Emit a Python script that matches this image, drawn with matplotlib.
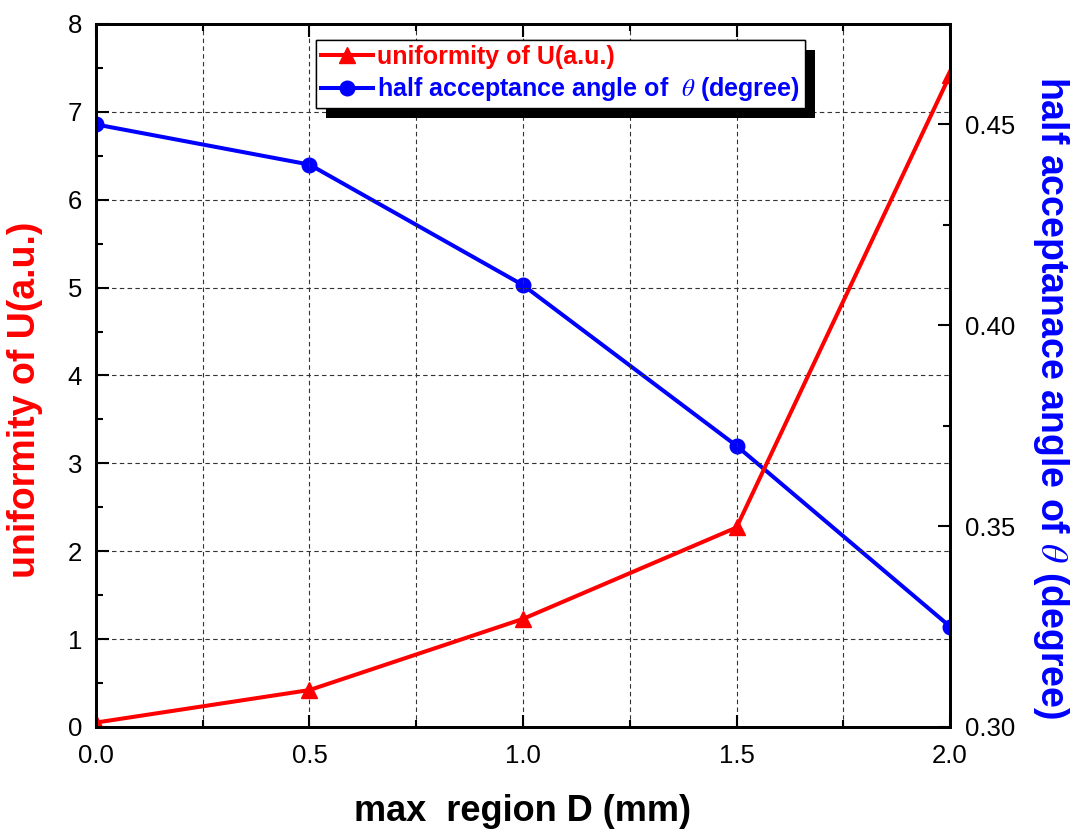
import numpy as np
import matplotlib.pyplot as plt
import matplotlib.patheffects as pe
from matplotlib.ticker import MultipleLocator

plt.rcParams['font.family'] = ['Liberation Sans', 'DejaVu Sans']
plt.rcParams['mathtext.fontset'] = 'stix'

# max region D (mm)
d = [0.0, 0.5, 1.0, 1.5, 2.0]
# uniformity U (a.u.)
u = [0.05, 0.42, 1.23, 2.27, 7.42]
# half acceptance angle theta (degree)
theta = [0.450, 0.440, 0.410, 0.370, 0.325]

fig = plt.figure(figsize=(10.77, 8.33), dpi=100)
ax = fig.add_axes([0.0891, 0.1273, 0.7930, 0.8439])
ax2 = ax.twinx()

l1, = ax.plot(d, u, color='red', lw=2.9, marker='^', ms=12, label='uniformity of U(a.u.)')
l2, = ax2.plot(d, theta, color='blue', lw=2.9, marker='o', ms=10.5,
               label=r'half acceptance angle of  $\theta$ (degree)')

ax.set_xlim(0, 2.0)
ax.set_ylim(0, 8)
ax2.set_ylim(0.30, 0.475)

ax.xaxis.set_major_locator(MultipleLocator(0.5))
ax.xaxis.set_minor_locator(MultipleLocator(0.25))
ax.yaxis.set_major_locator(MultipleLocator(1))
ax.yaxis.set_minor_locator(MultipleLocator(0.5))
ax2.yaxis.set_major_locator(MultipleLocator(0.05))
ax2.yaxis.set_minor_locator(MultipleLocator(0.025))
ax2.yaxis.set_major_formatter(plt.FormatStrFormatter('%.2f'))

ax.grid(True, which='both', axis='x', ls=(0, (4, 3)), color='#333333', lw=0.8)
ax.grid(True, which='major', axis='y', ls=(0, (4, 3)), color='#333333', lw=0.8)

ax.tick_params(axis='x', which='both', direction='in', top=True, labelsize=18.5, width=1.5, pad=12)
ax.tick_params(axis='y', which='both', direction='in', labelsize=18.5, width=1.5, pad=10)
ax2.tick_params(axis='y', which='both', direction='in', labelsize=18.5, width=1.5, pad=11)
for a in (ax, ax2):
    a.tick_params(which='major', length=9)
    a.tick_params(which='minor', length=5)
    for s in a.spines.values():
        s.set_linewidth(2)

ax.set_xlabel('max  region D (mm)', fontsize=26, fontweight='bold', labelpad=19)
ax.set_ylabel('uniformity of U(a.u.)', fontsize=27, fontweight='bold', color='red', labelpad=18)
ax2.set_ylabel(r'half acceptanace angle of $\theta$ (degree)', fontsize=27, fontweight='bold',
               color='blue', rotation=270, labelpad=40)
ax.yaxis.label.set_y(0.465)
ax2.yaxis.label.set_y(0.468)

leg = ax.legend(handles=[l1, l2], loc='upper left', bbox_to_anchor=(0.2576, 0.977),
                fancybox=False, framealpha=1, edgecolor='black',
                prop={'size': 18, 'weight': 'bold'}, handlelength=2.1,
                handletextpad=0.15, borderpad=0.2, labelspacing=0.25, borderaxespad=0)
leg.get_frame().set_linewidth(1.0)
leg.get_frame().set_path_effects([
    pe.withSimplePatchShadow(offset=(7, -7), shadow_rgbFace='black', alpha=1),
    pe.Normal()])
for txt, c in zip(leg.get_texts(), ['red', 'blue']):
    txt.set_color(c)
ax.set_zorder(ax2.get_zorder() + 1)
ax.patch.set_visible(False)

fig.savefig('out.png', dpi=100)
